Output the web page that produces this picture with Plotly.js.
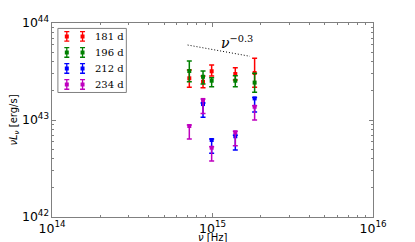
<!DOCTYPE html>
<html>
<head>
<meta charset="utf-8">
<script src="https://cdn.plot.ly/plotly-3.0.1.min.js"></script>
<style>html,body{margin:0;padding:0;background:#fff;}#chart{width:415px;height:242px;}</style>
</head>
<body>
<div id="chart"></div>
<script>
// frequencies (Hz)
const nu = [7.17e14, 8.73e14, 9.88e14, 1.387e15, 1.83e15];
const nuBlue = [8.73e14, 9.88e14, 1.387e15, 1.83e15];

// 181 d
const L181 = [2.69e43, 2.48e43, 3.18e43, 2.98e43, 3.05e43];
const L181_up = [0.58e43, 0.37e43, 0.51e43, 0.48e43, 1.28e43];
const L181_dn = [0.52e43, 0.33e43, 0.33e43, 0.40e43, 0.88e43];
// 196 d
const L196 = [3.20e43, 2.79e43, 2.54e43, 2.54e43, 2.43e43];
const L196_up = [0.86e43, 0.41e43, 0.19e43, 0.32e43, 0.60e43];
const L196_dn = [0.72e43, 0.44e43, 0.34e43, 0.34e43, 0.50e43];
// 212 d
const L212 = [1.46e43, 6.22e42, 6.80e42, 1.67e43];
const L212_up = [0.04e43, 0.15e42, 0.16e42, 0.04e43];
const L212_dn = [0.39e43, 1.68e42, 1.89e42, 0.46e43];
// 234 d
const L234 = [8.67e42, 1.61e43, 5.18e42, 7.46e42, 1.37e43];
const L234_up = [0.2e42, 0.04e43, 0.12e42, 0.18e42, 0.03e43];
const L234_dn = [2.30e42, 0.44e43, 1.40e42, 2.02e42, 0.37e43];

// power-law guide nu^-0.3
const plNu = [7.0e14, 1.71e15];
const plL = [5.93e43, 4.54e43];
const plLabel = '<i>ν</i><sup>−0.3</sup>';
const plLabelPos = [1.42e15, 6.3e43];

const labels = ['181 d', '196 d', '212 d', '234 d'];
const colors = ['#ff0000', '#008000', '#0000ff', '#bf00bf'];

function series(x, y, up, dn, name, color) {
  return {
    type: 'scatter', mode: 'markers', x: x, y: y, name: name,
    marker: {symbol: 'square', size: 4, color: color},
    error_y: {type: 'data', symmetric: false, array: up, arrayminus: dn,
              color: color, thickness: 1.5, width: 2.5},
    showlegend: false
  };
}

const traces = [
  series(nu, L181, L181_up, L181_dn, labels[0], colors[0]),
  series(nu, L196, L196_up, L196_dn, labels[1], colors[1]),
  series(nuBlue, L212, L212_up, L212_dn, labels[2], colors[2]),
  series(nu, L234, L234_up, L234_dn, labels[3], colors[3]),
  {type: 'scatter', mode: 'lines', x: plNu, y: plL, showlegend: false,
   line: {color: '#000', width: 1, dash: '1px,2px'}, hoverinfo: 'skip'}
];

// legend frame (matplotlib-style legend box) in its own small axes
traces.push({
  type: 'scatter', mode: 'lines', xaxis: 'x2', yaxis: 'y2',
  x: [0, 1, 1, 0, 0], y: [0, 0, 1, 1, 0], showlegend: false, hoverinfo: 'skip',
  line: {color: '#808080', width: 1}
});
// legend entries: two errorbar symbols per entry + label
const legendAnn = [];
labels.forEach((lab, i) => {
  const ry = 1 - (i + 0.5) / labels.length;
  traces.push({
    type: 'scatter', mode: 'markers', xaxis: 'x2', yaxis: 'y2',
    x: [0.13, 0.36], y: [ry, ry], showlegend: false, hoverinfo: 'skip',
    marker: {symbol: 'square', size: 4, color: colors[i]},
    error_y: {type: 'constant', value: 0.075, color: colors[i], thickness: 1.3, width: 2.5}
  });
  legendAnn.push({
    xref: 'x2', yref: 'y2', x: 0.52, y: ry, xanchor: 'left', yanchor: 'middle',
    text: lab, showarrow: false,
    font: {family: 'DejaVu Serif', size: 10, color: '#000'}
  });
});

const axisCommon = {
  type: 'log', dtick: 1, exponentformat: 'power', showgrid: false, zeroline: false,
  showline: true, linecolor: '#808080', linewidth: 1, mirror: 'allticks',
  ticks: 'inside', ticklen: 4, tickcolor: '#808080',
  minor: {ticks: 'inside', ticklen: 2, tickcolor: '#808080', dtick: 'D1'},
  tickfont: {family: 'DejaVu Sans', size: 10, color: '#000'}
};

const frameAxis = {
  range: [-0.03, 1.03], showline: false, showticklabels: false, ticks: '',
  showgrid: false, zeroline: false, fixedrange: true
};

const layout = {
  width: 415, height: 242,
  margin: {l: 52, r: 42, t: 23, b: 25},
  paper_bgcolor: '#fff', plot_bgcolor: '#fff',
  showlegend: false,
  xaxis: Object.assign({}, axisCommon, {range: [14, 16]}),
  yaxis: Object.assign({}, axisCommon, {range: [42, 44],
    title: {text: '<i>νL</i><sub><i>ν</i></sub> [erg/s]', font: {family: 'DejaVu Sans', size: 10, color: '#000'}, standoff: 2}}),
  xaxis2: Object.assign({}, frameAxis, {domain: [0.012, 0.238], anchor: 'y2'}),
  yaxis2: Object.assign({}, frameAxis, {domain: [0.632, 0.982], anchor: 'x2'}),
  annotations: [{
    x: Math.log10(plLabelPos[0]), y: Math.log10(plLabelPos[1]), xref: 'x', yref: 'y',
    text: plLabel, showarrow: false,
    font: {family: 'DejaVu Serif', size: 14, color: '#000'}
  }, {
    xref: 'paper', yref: 'paper', x: 0.5, y: -0.106, xanchor: 'center', yanchor: 'middle',
    text: '<i>ν</i> [Hz]', showarrow: false,
    font: {family: 'DejaVu Sans', size: 10, color: '#000'}
  }].concat(legendAnn)
};

Plotly.newPlot('chart', traces, layout, {displayModeBar: false, staticPlot: true});
</script>
</body>
</html>
